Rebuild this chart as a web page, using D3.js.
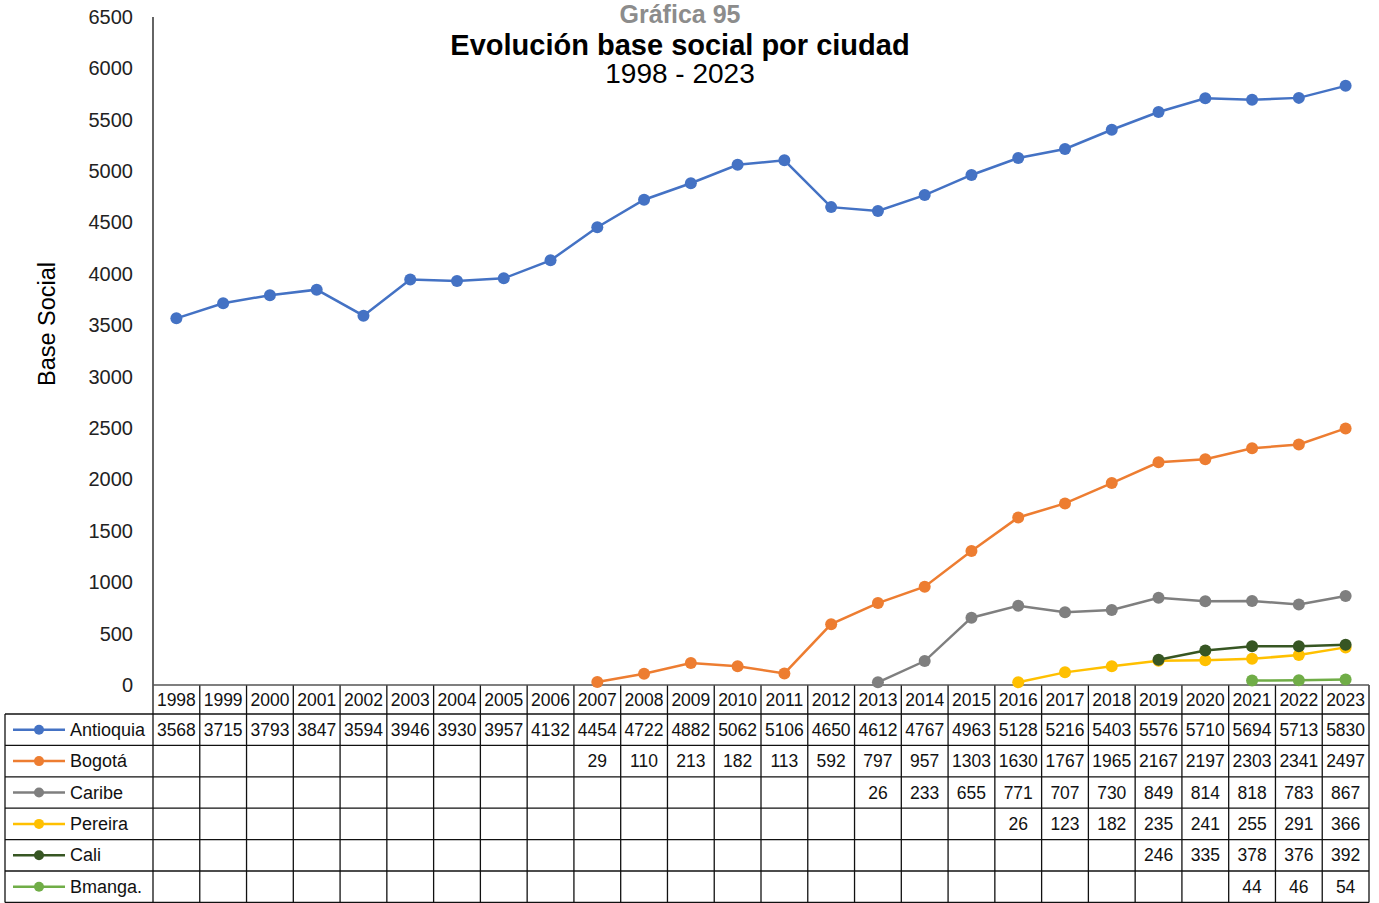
<!DOCTYPE html>
<html>
<head>
<meta charset="utf-8">
<script src="https://cdn.jsdelivr.net/npm/d3@7"></script>
<style>
  body { margin: 0; background: #fff; }
  text { font-family: "Liberation Sans", Arial, Helvetica, sans-serif; }
</style>
</head>
<body>
<div id="wrapper"></div>
<script>
const years = d3.range(1998, 2024);
const cities = ["Antioquia", "Bogotá", "Caribe", "Pereira", "Cali", "Bmanga."];
const colors = ["#4472C4", "#ED7D31", "#7F7F7F", "#FFC000", "#375623", "#70AD47"];
const yTicks = d3.range(0, 6501, 500);

const n = null;
const antioquia = [3568, 3715, 3793, 3847, 3594, 3946, 3930, 3957, 4132, 4454, 4722, 4882, 5062, 5106, 4650, 4612, 4767, 4963, 5128, 5216, 5403, 5576, 5710, 5694, 5713, 5830];
const bogota = [n, n, n, n, n, n, n, n, n, 29, 110, 213, 182, 113, 592, 797, 957, 1303, 1630, 1767, 1965, 2167, 2197, 2303, 2341, 2497];
const caribe = [n, n, n, n, n, n, n, n, n, n, n, n, n, n, n, 26, 233, 655, 771, 707, 730, 849, 814, 818, 783, 867];
const pereira = [n, n, n, n, n, n, n, n, n, n, n, n, n, n, n, n, n, n, 26, 123, 182, 235, 241, 255, 291, 366];
const cali = [n, n, n, n, n, n, n, n, n, n, n, n, n, n, n, n, n, n, n, n, n, 246, 335, 378, 376, 392];
const bmanga = [n, n, n, n, n, n, n, n, n, n, n, n, n, n, n, n, n, n, n, n, n, n, n, 44, 46, 54];

const seriesValues = [antioquia, bogota, caribe, pereira, cali, bmanga];

let dimensions = {
    width: 1379,
    height: 903,
    plotLeft: 153,
    plotRight: 1369,
    plotTop: 17,
    plotBottom: 685,
    tableLeft: 5,
    headerHeight: 29,
    rowHeight: 31.4
}

const svg = d3.select("#wrapper").append("svg")
    .attr("width", dimensions.width)
    .attr("height", dimensions.height);

const xScaler = d3.scaleBand()
    .domain(years)
    .range([dimensions.plotLeft, dimensions.plotRight]);
const yScaler = d3.scaleLinear()
    .domain([0, 6500])
    .range([dimensions.plotBottom, dimensions.plotTop]);

const xCenter = yr => xScaler(yr) + xScaler.bandwidth() / 2;

// y axis labels
const yAxisGen = d3.axisLeft(yScaler).tickValues(yTicks).tickSize(0).tickPadding(20).tickFormat(d3.format("d"));
const axisY = svg.append("g")
    .attr("transform", `translate(${dimensions.plotLeft},0)`)
    .call(yAxisGen);
axisY.select(".domain").remove();
axisY.selectAll("text")
    .style("font-size", "20px")
    .attr("fill", "#222");

svg.append("text")
    .attr("transform", "translate(55, 324) rotate(-90)")
    .attr("text-anchor", "middle")
    .style("font-size", "23.5px")
    .attr("fill", "#000")
    .text("Base Social");

// table grid
const headerTop = dimensions.plotBottom;
const rowsTop = headerTop + dimensions.headerHeight;
const tableBottom = rowsTop + dimensions.rowHeight * cities.length;
const grid = svg.append("g").attr("stroke", "#111").attr("stroke-width", 1.3).attr("fill", "none");

// vertical lines over the plot columns (header + rows)
years.concat([null]).forEach((yr, i) => {
    const x = yr === null ? dimensions.plotRight : xScaler(yr);
    grid.append("line")
        .attr("x1", x).attr("x2", x)
        .attr("y1", i === 0 ? dimensions.plotTop : headerTop)
        .attr("y2", tableBottom);
});
// left border of legend column
grid.append("line")
    .attr("x1", dimensions.tableLeft).attr("x2", dimensions.tableLeft)
    .attr("y1", rowsTop).attr("y2", tableBottom);
// horizontal lines
grid.append("line")
    .attr("x1", dimensions.plotLeft).attr("x2", dimensions.plotRight)
    .attr("y1", headerTop).attr("y2", headerTop)
    .attr("stroke", "#555");
d3.range(cities.length + 1).forEach(i => {
    const y = rowsTop + i * dimensions.rowHeight;
    grid.append("line")
        .attr("x1", dimensions.tableLeft).attr("x2", dimensions.plotRight)
        .attr("y1", y).attr("y2", y);
});

// header years
svg.append("g").selectAll("text")
    .data(years)
    .join("text")
    .attr("x", d => xCenter(d))
    .attr("y", headerTop + dimensions.headerHeight / 2 + 6)
    .attr("text-anchor", "middle")
    .style("font-size", "17.5px")
    .attr("fill", "#111")
    .text(d => d);

// rows: legend keys + values
cities.forEach((city, i) => {
    const yMid = rowsTop + i * dimensions.rowHeight + dimensions.rowHeight / 2;
    const row = svg.append("g");
    row.append("line")
        .attr("x1", 13).attr("x2", 65)
        .attr("y1", yMid).attr("y2", yMid)
        .attr("stroke", colors[i]).attr("stroke-width", 2.5);
    row.append("circle")
        .attr("cx", 39).attr("cy", yMid).attr("r", 5)
        .attr("fill", colors[i]);
    row.append("text")
        .attr("x", 70).attr("y", yMid + 6)
        .style("font-size", "18px")
        .attr("fill", "#111")
        .text(city);
    row.selectAll("text.val")
        .data(seriesValues[i].map((v, j) => ({ year: years[j], v })).filter(d => d.v !== null))
        .join("text")
        .attr("class", "val")
        .attr("x", d => xCenter(d.year))
        .attr("y", yMid + 6)
        .attr("text-anchor", "middle")
        .style("font-size", "17.5px")
        .attr("fill", "#111")
        .text(d => d.v);
});

// lines and markers
const lineGen = d3.line()
    .defined(d => d.v !== null)
    .x(d => xCenter(d.year))
    .y(d => yScaler(d.v));

seriesValues.forEach((vals, i) => {
    const data = vals.map((v, j) => ({ year: years[j], v }));
    svg.append("path")
        .datum(data)
        .attr("d", lineGen)
        .attr("fill", "none")
        .attr("stroke", colors[i])
        .attr("stroke-width", 2.5);
    svg.append("g").selectAll("circle")
        .data(data.filter(d => d.v !== null))
        .join("circle")
        .attr("cx", d => xCenter(d.year))
        .attr("cy", d => yScaler(d.v))
        .attr("r", 6)
        .attr("fill", colors[i]);
});

// titles
svg.append("text")
    .attr("x", 680).attr("y", 23)
    .attr("text-anchor", "middle")
    .style("font-size", "25px").style("font-weight", "bold")
    .attr("fill", "#8c8c8c")
    .text("Gráfica 95");
svg.append("text")
    .attr("x", 680).attr("y", 55)
    .attr("text-anchor", "middle")
    .style("font-size", "29px").style("font-weight", "bold")
    .attr("fill", "#000")
    .text("Evolución base social por ciudad");
svg.append("text")
    .attr("x", 680).attr("y", 83)
    .attr("text-anchor", "middle")
    .style("font-size", "28px")
    .attr("fill", "#000")
    .text("1998 - 2023");
</script>
</body>
</html>
